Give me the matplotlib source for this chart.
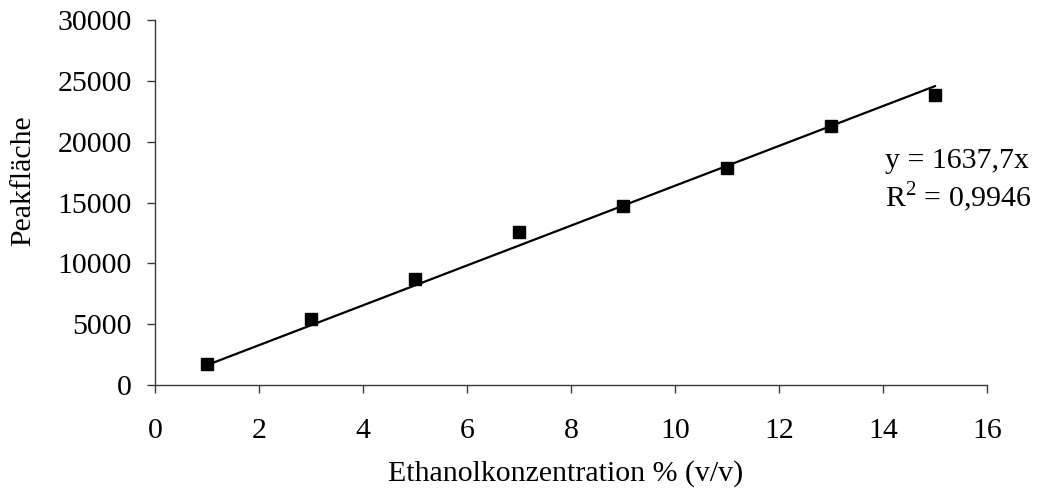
import matplotlib
matplotlib.use("Agg")
import matplotlib.pyplot as plt
import numpy as np

# Calibration data: ethanol concentration vs. peak area
konzentration = [1, 3, 5, 7, 9, 11, 13, 15]
peakflaeche = [1750, 5400, 8700, 12550, 14700, 17850, 21300, 23850]

# Linear regression through the origin (as stated on the chart)
steigung = 1637.7
r_quadrat = "0,9946"

x_ticks = [0, 2, 4, 6, 8, 10, 12, 14, 16]
y_ticks = [0, 5000, 10000, 15000, 20000, 25000, 30000]

plt.rcParams['font.family'] = ['Liberation Serif', 'DejaVu Serif']
plt.rcParams['mathtext.fontset'] = 'custom'
plt.rcParams['mathtext.rm'] = 'Liberation Serif'

FS = 21.5
AXIS_COLOR = '#3a3a3a'

fig = plt.figure(figsize=(10.4, 4.88), dpi=100)
ax = fig.add_axes([0.149, 0.211, 0.8, 0.748])

ax.plot(konzentration, peakflaeche, linestyle='none', marker='s',
        markersize=9, color='black')

x_fit = np.array([konzentration[0], konzentration[-1]])
ax.plot(x_fit, steigung * x_fit, color='black', linewidth=1.6)

ax.set_xlim(0, 16)
ax.set_ylim(0, 30000)
ax.set_xticks(x_ticks)
ax.set_yticks(y_ticks)
ax.set_xticklabels([str(v) for v in x_ticks])
ax.set_yticklabels([str(v) for v in y_ticks])

for side in ('top', 'right'):
    ax.spines[side].set_visible(False)
for side in ('left', 'bottom'):
    ax.spines[side].set_linewidth(1.0)
    ax.spines[side].set_color(AXIS_COLOR)

ax.tick_params(axis='both', direction='out', length=6, width=1.0,
               color=AXIS_COLOR, labelsize=FS)
ax.tick_params(axis='x', pad=18)
ax.tick_params(axis='y', pad=10.5)

ax.set_xlabel('Ethanolkonzentration % (v/v)', fontsize=FS)
ax.xaxis.set_label_coords(0.493, -0.206)
ax.set_ylabel('Peakfläche', fontsize=FS)
ax.yaxis.set_label_coords(-0.159, 0.56)
ax.yaxis.label.set_verticalalignment('center')

ax.text(0.851, 0.656, f'y = {steigung:.1f}x'.replace('.', ','),
        transform=fig.transFigure, fontsize=FS, ha='left', va='baseline')
ax.text(0.851, 0.576, f'R$^2$ = {r_quadrat}',
        transform=fig.transFigure, fontsize=FS, ha='left', va='baseline')

fig.savefig('out.png', dpi=100)
